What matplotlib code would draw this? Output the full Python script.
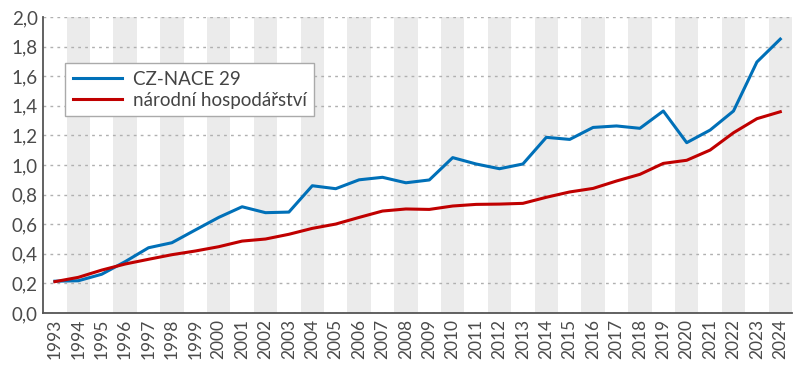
import matplotlib.pyplot as plt
from matplotlib.ticker import FuncFormatter

plt.rcParams['font.family'] = ['Lato', 'DejaVu Sans']

years = list(range(1993, 2025))
nace29 = [0.215, 0.218, 0.262, 0.347, 0.441, 0.475, 0.561, 0.646, 0.718, 0.678,
          0.682, 0.860, 0.840, 0.900, 0.917, 0.880, 0.899, 1.050, 1.007, 0.975,
          1.007, 1.187, 1.173, 1.254, 1.264, 1.248, 1.365, 1.151, 1.236, 1.365,
          1.696, 1.851]
narodni = [0.212, 0.241, 0.290, 0.331, 0.363, 0.394, 0.419, 0.448, 0.486, 0.500,
           0.532, 0.572, 0.601, 0.646, 0.689, 0.703, 0.700, 0.723, 0.734, 0.736,
           0.741, 0.782, 0.818, 0.842, 0.892, 0.937, 1.011, 1.032, 1.101, 1.218,
           1.313, 1.360]

fig = plt.figure(figsize=(8, 3.7), dpi=100)
ax = fig.add_axes([0.054, 0.154, 0.936, 0.8])

x = list(range(len(years)))

# alternating grey bands, every other year
for i in x:
    if i % 2 == 1:
        ax.axvspan(i - 0.5, i + 0.5, color='#ebebeb', lw=0, zorder=0)

ax.plot(x, nace29, color='#0070b8', lw=2.2, label='CZ-NACE 29', zorder=3)
ax.plot(x, narodni, color='#c00000', lw=2.2, label='národní hospodářství', zorder=3)

ax.set_xlim(-0.5, len(years) - 0.5)
ax.set_ylim(0, 2.0)
ax.set_yticks([i / 10 for i in range(0, 21, 2)])
ax.yaxis.set_major_formatter(FuncFormatter(lambda v, p: f'{v:.1f}'.replace('.', ',')))
ax.set_xticks(x)
ax.set_xticklabels([str(y) for y in years], rotation=90)

ax.grid(axis='y', color='#b0b0b0', linestyle=(0, (2, 3)), lw=1, zorder=1)
ax.set_axisbelow(True)

for s in ['top', 'right']:
    ax.spines[s].set_visible(False)
for s in ['left', 'bottom']:
    ax.spines[s].set_color('#555555')
    ax.spines[s].set_linewidth(1.3)
    ax.spines[s].set_zorder(4)

ax.tick_params(axis='both', length=0, labelsize=13.5, colors='#4a4a4a', pad=4)
ax.tick_params(axis='x', labelsize=12.5)

leg = ax.legend(loc='upper left', bbox_to_anchor=(0.017, 0.875), fontsize=13.5,
                frameon=True, fancybox=False, edgecolor='#aaaaaa', framealpha=1,
                handlelength=2.6, borderpad=0.4, labelspacing=0.2, handletextpad=0.6)
leg.get_frame().set_linewidth(1.0)
for t in leg.get_texts():
    t.set_color('#444444')

fig.savefig('out.png', dpi=100)
